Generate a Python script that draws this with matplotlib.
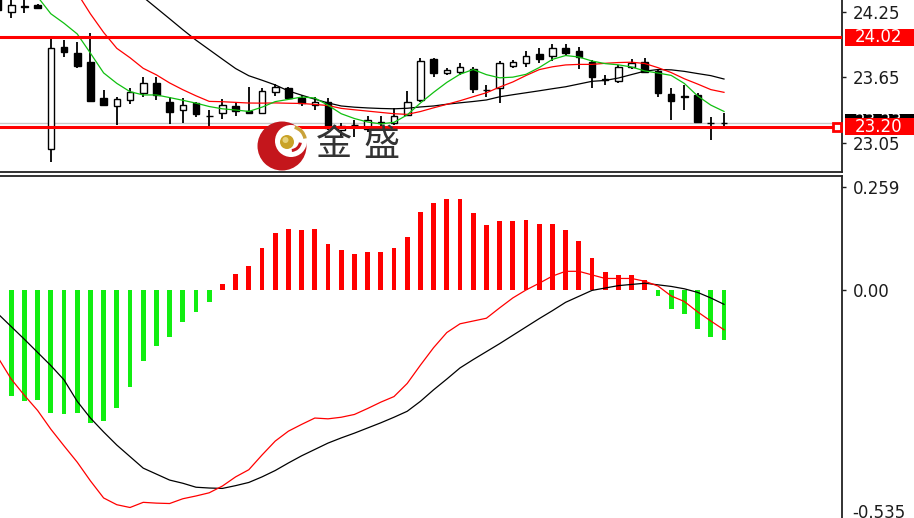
import numpy as np
import matplotlib
matplotlib.use('Agg')
import matplotlib.pyplot as plt
from matplotlib.patches import Circle, Rectangle, Wedge

plt.rcParams['font.family'] = ['DejaVu Sans', 'Noto Sans CJK SC']

# K线数据 (每根一个值, 从左到右)
opens = [24.397, 24.253, 24.305, 24.314, 22.993, 23.932, 23.877, 23.795, 23.460, 23.389,
         23.444, 23.511, 23.597, 23.429, 23.353, 23.414, 23.298, 23.322, 23.389, 23.343,
         23.328, 23.515, 23.551, 23.460, 23.398, 23.429, 23.169, 23.215, 23.176, 23.238,
         23.231, 23.307, 23.444, 23.817, 23.689, 23.703, 23.725, 23.536, 23.551, 23.758,
         23.780, 23.865, 23.847, 23.918, 23.896, 23.795, 23.632, 23.621, 23.744, 23.795,
         23.713, 23.499, 23.479, 23.490, 23.234, 23.234]
highs = [24.433, 24.378, 24.378, 24.323, 24.009, 23.994, 23.978, 24.055, 23.536, 23.474,
         23.551, 23.658, 23.658, 23.469, 23.460, 23.429, 23.353, 23.451, 23.429, 23.566,
         23.551, 23.591, 23.566, 23.490, 23.474, 23.460, 23.231, 23.261, 23.298, 23.298,
         23.368, 23.527, 23.826, 23.832, 23.735, 23.780, 23.744, 23.582, 23.804, 23.810,
         23.896, 23.918, 23.957, 23.957, 23.932, 23.810, 23.673, 23.765, 23.817, 23.826,
         23.725, 23.551, 23.582, 23.505, 23.286, 23.322]
lows = [24.250, 24.195, 24.241, 24.278, 22.879, 23.835, 23.735, 23.429, 23.389, 23.215,
        23.405, 23.474, 23.444, 23.222, 23.231, 23.291, 23.200, 23.267, 23.298, 23.322,
        23.322, 23.481, 23.444, 23.389, 23.353, 23.169, 23.093, 23.108, 23.154, 23.200,
        23.215, 23.298, 23.429, 23.658, 23.673, 23.673, 23.505, 23.474, 23.414, 23.740,
        23.744, 23.786, 23.801, 23.847, 23.725, 23.551, 23.582, 23.603, 23.725, 23.694,
        23.474, 23.261, 23.353, 23.236, 23.078, 23.185]
closes = [24.268, 24.314, 24.300, 24.287, 23.918, 23.881, 23.758, 23.435, 23.398, 23.451,
          23.520, 23.603, 23.490, 23.337, 23.398, 23.313, 23.293, 23.398, 23.343, 23.328,
          23.527, 23.561, 23.460, 23.419, 23.429, 23.185, 23.209, 23.211, 23.261, 23.234,
          23.298, 23.429, 23.804, 23.694, 23.719, 23.749, 23.542, 23.531, 23.780, 23.789,
          23.847, 23.817, 23.918, 23.872, 23.835, 23.652, 23.627, 23.749, 23.786, 23.703,
          23.506, 23.438, 23.474, 23.245, 23.229, 23.229]

nan = np.nan
# 均线 (绿/红/黑), 左侧超出图外的部分为 nan
ma_fast = [nan, nan, nan,
           24.389, 24.234, 24.147, 24.049, 23.873, 23.692, 23.596, 23.520, 23.490, 23.490,
           23.466, 23.441, 23.415, 23.384, 23.363, 23.352, 23.339, 23.378, 23.429, 23.449,
           23.471, 23.462, 23.396, 23.318, 23.274, 23.242, 23.225, 23.239, 23.307, 23.416,
           23.514, 23.605, 23.680, 23.723, 23.676, 23.647, 23.653, 23.679, 23.741, 23.816,
           23.851, 23.838, 23.801, 23.777, 23.766, 23.746, 23.710, 23.691, 23.669, 23.595,
           23.481, 23.397, 23.339]
ma_mid = [nan] * 6 + [
          24.424, 24.233, 24.063, 23.917, 23.831, 23.734, 23.674,
          23.600, 23.538, 23.482, 23.431, 23.428, 23.422, 23.416, 23.415, 23.417, 23.414,
          23.412, 23.403, 23.393, 23.367, 23.354, 23.342, 23.330, 23.318, 23.312, 23.338,
          23.372, 23.404, 23.437, 23.474, 23.510, 23.562, 23.609, 23.668, 23.722, 23.748,
          23.765, 23.770, 23.770, 23.780, 23.787, 23.790, 23.778, 23.740, 23.695, 23.638,
          23.590, 23.539, 23.514]
ma_slow = [nan] * 11 + [
           24.386, 24.287,
           24.188, 24.088, 23.992, 23.905, 23.818, 23.732, 23.666, 23.625, 23.582, 23.527,
           23.488, 23.451, 23.417, 23.389, 23.378, 23.371, 23.366, 23.363, 23.368, 23.380,
           23.389, 23.405, 23.418, 23.430, 23.444, 23.473, 23.492, 23.510, 23.528, 23.547,
           23.565, 23.590, 23.615, 23.623, 23.645, 23.677, 23.708, 23.723, 23.720, 23.706,
           23.686, 23.667, 23.636]

# 水平线
level_hi = 24.02
level_lo = 23.20

# MACD
hist = [-0.218, -0.266, -0.279, -0.277, -0.310, -0.313, -0.310, -0.334, -0.329, -0.296,
        -0.243, -0.178, -0.141, -0.117, -0.080, -0.055, -0.029, 0.014, 0.040, 0.061,
        0.106, 0.143, 0.153, 0.150, 0.153, 0.116, 0.100, 0.090, 0.096, 0.096,
        0.106, 0.133, 0.195, 0.219, 0.229, 0.229, 0.193, 0.163, 0.174, 0.174,
        0.176, 0.167, 0.167, 0.150, 0.123, 0.080, 0.046, 0.038, 0.038, 0.025,
        -0.014, -0.048, -0.061, -0.098, -0.118, -0.125]
dif = [-0.170, -0.224, -0.265, -0.303, -0.350, -0.392, -0.433, -0.480, -0.523, -0.540,
       -0.547, -0.534, -0.536, -0.537, -0.525, -0.518, -0.510, -0.493, -0.470, -0.452,
       -0.415, -0.380, -0.355, -0.338, -0.322, -0.324, -0.320, -0.313, -0.298, -0.282,
       -0.268, -0.235, -0.189, -0.145, -0.107, -0.085, -0.078, -0.071, -0.045, -0.020,
       0.000, 0.017, 0.035, 0.047, 0.047, 0.038, 0.029, 0.029, 0.029, 0.022,
       0.010, -0.015, -0.029, -0.055, -0.078, -0.100]
dea = [-0.060, -0.092, -0.124, -0.157, -0.190, -0.226, -0.280, -0.322, -0.357, -0.390,
       -0.419, -0.448, -0.463, -0.478, -0.486, -0.496, -0.498, -0.499, -0.492, -0.484,
       -0.470, -0.454, -0.435, -0.417, -0.401, -0.385, -0.372, -0.360, -0.347, -0.334,
       -0.320, -0.305, -0.280, -0.251, -0.224, -0.196, -0.175, -0.155, -0.135, -0.114,
       -0.093, -0.072, -0.052, -0.031, -0.016, -0.001, 0.005, 0.011, 0.014, 0.017,
       0.013, 0.009, 0.003, -0.006, -0.020, -0.036]

W, H = 914, 518


def px_box(x0, y0, x1, y1):
    # 像素坐标 -> figure 坐标
    return [x0 / W, 1 - y1 / H, (x1 - x0) / W, (y1 - y0) / H]


fig = plt.figure(figsize=(W / 100, H / 100), dpi=100)
ax = fig.add_axes(px_box(0, 0, 842, 172))
ax2 = fig.add_axes(px_box(0, 176, 842, 518))

o = np.array(opens)
c = np.array(closes)
idx = np.arange(len(o))
xlim = (0.15, 63.94)
label_size = 12

# ---- 主图 ----
ax.axhline(closes[-1], color='#c8c8c8', lw=1, zorder=1)
ax.vlines(idx, lows, highs, color='black', lw=1.3, zorder=3)
up = c > o
body_lo = np.minimum(o, c)
body_h = np.maximum(np.abs(c - o), 0.006)
ax.bar(idx, body_h, bottom=body_lo, width=0.5,
       color=np.where(up, 'white', 'black'), edgecolor='black', lw=1, zorder=4)

ax.plot(idx, ma_slow, color='black', lw=0.9, zorder=5)
ax.plot(idx, ma_mid, color='#ff0000', lw=0.9, zorder=5)
ax.plot(idx, ma_fast, color='#10c010', lw=0.9, zorder=5)

ax.axhline(level_hi, color='#ff0000', lw=2.2, zorder=6)
ax.axhline(level_lo, color='#ff0000', lw=2.2, zorder=6)
ax.plot([0.994], [level_lo], 's', ms=6, mfc='white', mec='#ff0000', mew=2,
        transform=ax.get_yaxis_transform(), clip_on=False, zorder=7)

ax.set_xlim(*xlim)
ax.set_ylim(22.784, 24.36)
ax.set_xticks([])
ax.yaxis.tick_right()
ax.set_yticks([23.05, 23.65, 24.25])
ax.set_yticklabels(['23.05', '23.65', '24.25'])
for s in ['top', 'left']:
    ax.spines[s].set_visible(False)
for s in ['right', 'bottom']:
    ax.spines[s].set_linewidth(1.3)
    ax.spines[s].set_color('#222222')
ax.tick_params(axis='y', length=3, width=1, pad=5, labelsize=label_size, colors='#1c1c1c')
ax.set_facecolor('none')

# 价格标签 (黑色当前价被红色 23.20 标签压住一半)
yt = ax.get_yaxis_transform()
box_h = 0.156
ax.add_patch(Rectangle((1.004, closes[-1] - box_h / 2 + 0.012), 0.1, box_h, transform=yt,
                       facecolor='black', edgecolor='none', clip_on=False, zorder=8))
ax.text(1.015, closes[-1] + 0.02, f'{closes[-1]:.2f}', transform=yt, color='white',
        fontsize=label_size, ha='left', va='center', clip_on=False, zorder=9)
for lv in [level_hi, level_lo]:
    ax.add_patch(Rectangle((1.004, lv - box_h / 2), 0.1, box_h, transform=yt,
                           facecolor='#ff0000', edgecolor='none', clip_on=False, zorder=10))
    ax.text(1.015, lv, f'{lv:.2f}', transform=yt, color='white', fontsize=label_size,
            ha='left', va='center', clip_on=False, zorder=11)

# ---- MACD ----
h = np.array(hist)
ax2.bar(idx, h, width=0.37, color=np.where(h >= 0, '#ff0000', '#11ee11'), zorder=2)
ax2.plot(idx, dea, color='black', lw=0.9, zorder=3)
ax2.plot(idx, dif, color='#ff0000', lw=0.9, zorder=3)
ax2.set_xlim(*xlim)
ax2.set_ylim(-0.5734, 0.2867)
ax2.set_xticks([])
ax2.yaxis.tick_right()
ax2.set_yticks([0.259, 0.0])
ax2.set_yticklabels(['0.259', '0.00'])
ax2.tick_params(axis='y', length=3, width=1, pad=5, labelsize=label_size, colors='#1c1c1c')
for s in ['bottom', 'left']:
    ax2.spines[s].set_visible(False)
for s in ['right', 'top']:
    ax2.spines[s].set_linewidth(1.3)
    ax2.spines[s].set_color('#222222')
ax2.text(1.012, -0.561, '-0.535', transform=ax2.get_yaxis_transform(), fontsize=label_size,
         color='#1c1c1c', ha='left', va='center', clip_on=False)

# ---- 金盛 logo ----
lg = fig.add_axes([0, 0, 1, 1])
lg.set_xlim(0, W)
lg.set_ylim(H, 0)
lg.axis('off')
lg.set_facecolor('none')
lg.add_patch(Circle((282, 146), 24.5, fc='#c4161c', ec='none'))
lg.add_patch(Circle((291, 141), 16, fc='white', ec='none'))
lg.add_patch(Wedge((291, 141), 16, 285, 350, width=3.5, fc='#c9a23a', ec='none'))
lg.add_patch(Wedge((291, 141), 11, 10, 85, width=3, fc='#c4161c', ec='none'))
lg.add_patch(Circle((287, 142), 7, fc='#c9a227', ec='none'))
lg.add_patch(Circle((285.5, 140), 3, fc='#e6d27c', ec='none'))
lg.text(334, 145, '金', fontsize=26, family=['Noto Sans CJK SC'], color='#333333',
        ha='center', va='center')
lg.text(381, 145, '盛', fontsize=26, family=['Noto Sans CJK SC'], color='#333333',
        ha='center', va='center')

fig.savefig('out.png', dpi=100)
